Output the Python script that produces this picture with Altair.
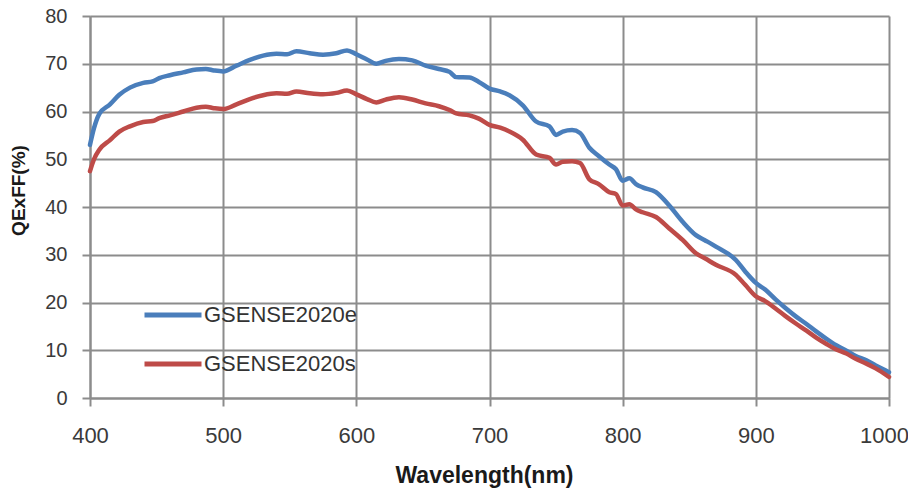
import altair as alt
import pandas as pd

wl_e = [400, 403, 407, 415, 422, 430, 440, 447, 452, 460, 470, 480, 487, 493, 500, 510, 520, 530, 540, 548,
        555, 565, 575, 585, 593, 600, 608, 615, 622, 632, 642, 652, 662, 670, 675, 685, 692, 700, 708, 715,
        725, 735, 745, 750, 755, 762, 768, 775, 782, 790, 795, 800, 805, 810, 815, 825, 835, 845, 855, 862,
        870, 885, 892, 900, 907, 915, 922, 930, 938, 945, 953, 960, 968, 975, 983, 990, 1000]
qe_e = [53, 56.5, 59.5, 61.5, 63.5, 65, 66, 66.3, 67, 67.6, 68.2, 68.8, 68.9, 68.6, 68.4, 69.6, 70.8, 71.7, 72.1, 72,
        72.6, 72.2, 71.9, 72.2, 72.8, 72, 70.9, 70, 70.6, 71, 70.7, 69.6, 68.9, 68.3, 67.2, 67.1, 66.2, 64.8, 64.2, 63.4,
        61.3, 57.9, 56.9, 55.1, 55.8, 56.1, 55.5, 52.4, 50.7, 48.9, 47.9, 45.5, 46, 44.8, 44.1, 43.1, 40.3, 36.9, 34.1, 33,
        31.7, 28.9, 26.5, 24.1, 22.7, 20.6, 18.9, 17.1, 15.5, 14, 12.4, 11.1, 9.9, 8.8, 7.9, 6.8, 5.4]

wl_s = wl_e
qe_s = [47.5, 50, 52, 54, 55.8, 56.9, 57.8, 58, 58.6, 59.2, 60, 60.8, 61, 60.7, 60.5, 61.5, 62.6, 63.4, 63.8, 63.7,
        64.2, 63.8, 63.6, 63.9, 64.4, 63.6, 62.6, 61.9, 62.5, 63, 62.5, 61.7, 61.1, 60.3, 59.6, 59.2, 58.5, 57.2, 56.6, 55.8,
        54.1, 51, 50.3, 48.9, 49.5, 49.6, 49.2, 45.8, 44.8, 43.1, 42.7, 40.3, 40.6, 39.5, 38.9, 37.9, 35.5, 33.1, 30.3, 29.2,
        27.9, 25.8, 23.7, 21.3, 20.3, 18.7, 17.2, 15.6, 14.1, 12.7, 11.3, 10.2, 9.3, 8.2, 7.2, 6.2, 4.4]

series = ["GSENSE2020e", "GSENSE2020s"]
colors = ["#4A7EBB", "#BE4B48"]
x_ticks = [400, 500, 600, 700, 800, 900, 1000]
y_ticks = [0, 10, 20, 30, 40, 50, 60, 70, 80]

df = pd.concat([
    pd.DataFrame({"wl": wl_e, "qe": qe_e, "sensor": series[0]}),
    pd.DataFrame({"wl": wl_s, "qe": qe_s, "sensor": series[1]}),
])

GRID = "#8C8C8C"

chart = alt.Chart(df).mark_line(strokeWidth=4.5, strokeCap="round", strokeJoin="round",
                                interpolate="monotone").encode(
    x=alt.X("wl:Q", scale=alt.Scale(domain=[400, 1000], nice=False),
            axis=alt.Axis(values=x_ticks, format="d", labelFlush=False, labelOverlap=False,
                          labelOffset={"condition": {"test": "datum.value == 1000", "value": -5}, "value": 0},
                          title="Wavelength(nm)", labelFontSize=22, labelPadding=19,
                          titleFontSize=23, titleX=394, titleY=84, titleBaseline="alphabetic",
                          titleAlign="center")),
    y=alt.Y("qe:Q", scale=alt.Scale(domain=[0, 80], nice=False),
            axis=alt.Axis(values=y_ticks, format="d", labelFlush=False, labelOverlap=False,
                          title="QExFF(%)", labelFontSize=20, labelPadding=15,
                          titleFontSize=19, titleAngle=270, titleX=-66, titleY=174,
                          titleBaseline="alphabetic", titleAlign="center")),
    color=alt.Color("sensor:N", scale=alt.Scale(domain=series, range=colors),
                    legend=alt.Legend(title=None, orient="none", legendX=52, legendY=268,
                                      symbolType="stroke", symbolStrokeWidth=5, symbolSize=3249,
                                      labelFontSize=22, labelOffset=0, rowPadding=7,
                                      labelFont="Liberation Sans", labelColor="#333333")),
).properties(
    width=799, height=382,
    autosize=alt.AutoSizeParams(type="none"),
    padding={"left": 82, "top": 8, "right": 19, "bottom": 90},
).configure_view(
    stroke=None
).configure_axis(
    grid=True, gridColor=GRID, gridWidth=2, gridOpacity=1,
    domainColor=GRID, domainWidth=2, tickColor=GRID, tickWidth=2, tickSize=8,
    labelFont="Liberation Sans", labelColor="#3A3A3A",
    titleFont="Liberation Sans", titleFontWeight="bold", titleColor="#1A1A1A",
)

chart.save("out.html", embed_options={"renderer": "svg", "actions": False})
